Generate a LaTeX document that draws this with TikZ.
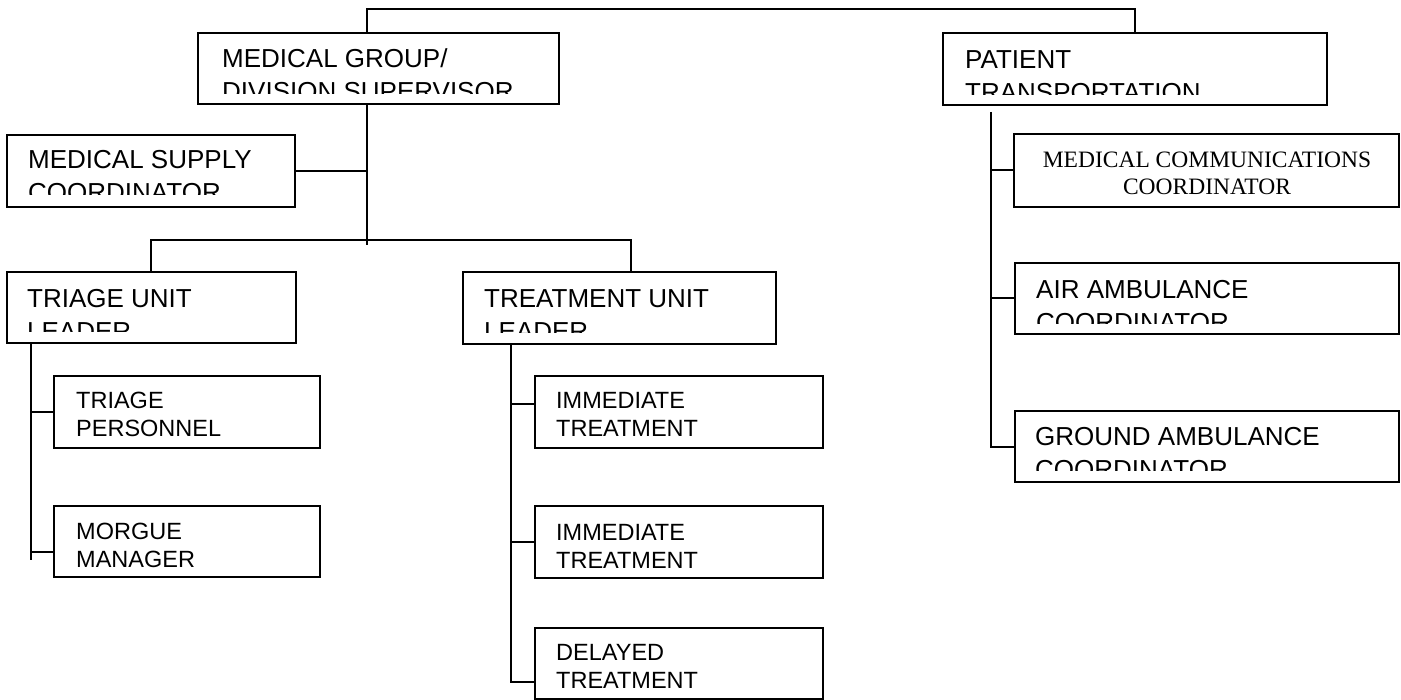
\documentclass[tikz,border=0pt]{standalone}
\usepackage{fontspec}
\setmainfont{Liberation Sans}
\newfontfamily\serifface{Liberation Serif}
\newcommand\fbig{\fontsize{26pt}{33pt}\selectfont}
\newcommand\fsmall{\fontsize{23.5pt}{28pt}\selectfont}
\newcommand\fser{\serifface\fontsize{23.5pt}{27pt}\selectfont}
\begin{document}
\begin{tikzpicture}[x=1pt,y=-1pt,
  box/.style={draw, line width=2pt, inner sep=0pt, outer sep=0pt},
  conn/.style={line width=2pt},
  bigt/.style={anchor=north west, inner sep=0pt, align=left, font=\fbig},
  smallt/.style={anchor=north west, inner sep=0pt, align=left, font=\fsmall},
  sert/.style={anchor=north, inner sep=0pt, align=center, font=\fser}]
\useasboundingbox (0,0) rectangle (1401,700);
% boxes
\node[box, minimum width=361pt, minimum height=71pt] (mg) at (378.5,68.5) {};
\node[box, minimum width=384pt, minimum height=72pt] (pt) at (1135,69) {};
\node[box, minimum width=288pt, minimum height=72pt] (ms) at (151,171) {};
\node[box, minimum width=289pt, minimum height=71pt] (tu) at (151.5,307.5) {};
\node[box, minimum width=313pt, minimum height=72pt] (tr) at (619.5,308) {};
\node[box, minimum width=266pt, minimum height=72pt] (tp) at (187,412) {};
\node[box, minimum width=266pt, minimum height=71pt] (mm) at (187,541.5) {};
\node[box, minimum width=288pt, minimum height=72pt] (i1) at (679,412) {};
\node[box, minimum width=288pt, minimum height=72pt] (i2) at (679,542) {};
\node[box, minimum width=288pt, minimum height=71pt] (dt) at (679,663) {};
\node[box, minimum width=385pt, minimum height=73pt] (mc) at (1206.5,170.5) {};
\node[box, minimum width=384pt, minimum height=71pt] (aa) at (1207,298.5) {};
\node[box, minimum width=384pt, minimum height=71pt] (ga) at (1207,446.5) {};
% texts (clipped like the reference)
\begin{scope}
\clip (mg.north west) rectangle ([yshift=10pt]mg.south east);
\node[bigt] (mgT) at (222,43) {\rule{0pt}{24pt}MEDICAL GROUP/\\DIVISION SUPERVISOR};
\end{scope}
\begin{scope}
\clip (pt.north west) rectangle ([yshift=10.5pt]pt.south east);
\node[bigt] (ptT) at (965,44) {\rule{0pt}{24pt}PATIENT\\TRANSPORTATION};
\end{scope}
\begin{scope}
\clip (ms.north west) rectangle ([yshift=12.5pt]ms.south east);
\node[bigt] (msT) at (28,144) {\rule{0pt}{24pt}MEDICAL SUPPLY\\COORDINATOR};
\end{scope}
\begin{scope}
\clip (tu.north west) rectangle ([yshift=11pt]tu.south east);
\node[bigt] (tuT) at (27,283) {\rule{0pt}{24pt}TRIAGE UNIT\\LEADER};
\end{scope}
\begin{scope}
\clip (tr.north west) rectangle ([yshift=11pt]tr.south east);
\node[bigt] (trT) at (484,283) {\rule{0pt}{24pt}TREATMENT UNIT\\LEADER};
\end{scope}
\begin{scope}
\clip (aa.north west) rectangle ([yshift=10pt]aa.south east);
\node[bigt] (aaT) at (1036,274) {\rule{0pt}{24pt}AIR AMBULANCE\\COORDINATOR};
\end{scope}
\begin{scope}
\clip (ga.north west) rectangle ([yshift=11.5pt]ga.south east);
\node[bigt] (gaT) at (1035,421) {\rule{0pt}{24pt}GROUND AMBULANCE\\COORDINATOR};
\end{scope}
\node[smallt] (tpT) at (76,386) {\rule{0pt}{22pt}TRIAGE\\PERSONNEL};
\node[smallt] (mmT) at (76,517) {\rule{0pt}{22pt}MORGUE\\MANAGER};
\node[smallt] (i1T) at (556,386) {\rule{0pt}{22pt}IMMEDIATE\\TREATMENT};
\node[smallt] (i2T) at (556,518) {\rule{0pt}{22pt}IMMEDIATE\\TREATMENT};
\node[smallt] (dtT) at (556,638) {\rule{0pt}{22pt}DELAYED\\TREATMENT};
\node[sert] (mcT) at (1207,145) {\rule{0pt}{22pt}MEDICAL COMMUNICATIONS\\COORDINATOR};
% connectors
\coordinate (topL) at (367,9);
\coordinate (topR) at (1135,9);
\draw[conn] (mg.north -| topL) -- (topL) -- (topR) -- (pt.north);
\coordinate (mgEnd) at (367,245);
\draw[conn] (mg.south -| mgEnd) -- (mgEnd);
\draw[conn] (ms.east) -- (ms.east -| mgEnd);
\coordinate (barL) at (151,240);
\coordinate (barR) at (631,240);
\draw[conn] (tu.north -| barL) -- (barL) -- (barR) -- (tr.north -| barR);
% triage branch
\coordinate (tuEnd) at (31,560);
\coordinate (mmC) at (54,552);
\draw[conn] (tu.south -| tuEnd) -- (tuEnd);
\draw[conn] (tp.west) -- (tp.west -| tuEnd);
\draw[conn] (mmC) -- (mmC -| tuEnd);
% treatment branch
\coordinate (trEnd) at (511,682);
\coordinate (i1C) at (535,404);
\draw[conn] (tr.south -| trEnd) -- (trEnd) -- (dt.west |- trEnd);
\draw[conn] (i1C) -- (i1C -| trEnd);
\draw[conn] (i2.west) -- (i2.west -| trEnd);
% patient transportation branch
\coordinate (ptTop) at (991,112);
\coordinate (ptEnd) at (991,447);
\draw[conn] (ptTop) -- (ptEnd) -- (ga.west |- ptEnd);
\draw[conn] (mc.west) -- (mc.west -| ptTop);
\draw[conn] (aa.west) -- (aa.west -| ptTop);
\end{tikzpicture}
\end{document}
